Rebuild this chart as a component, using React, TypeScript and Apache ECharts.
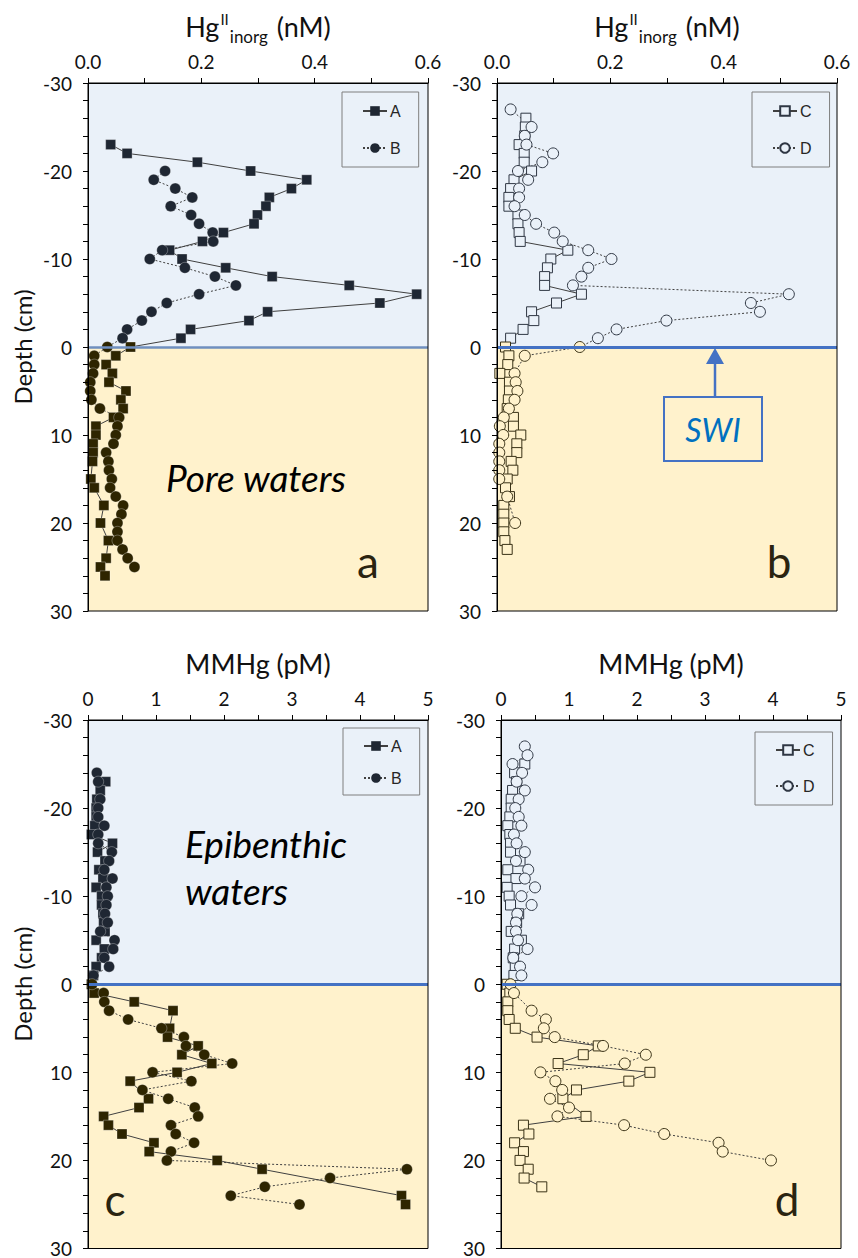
import React, { useEffect, useRef } from "react";
import * as echarts from "echarts";

// ---------- Data (depth in cm, negative = above SWI) ----------
// Panel a: Hg(II)inorg (nM), stations A and B
const depthHgA = [-23,-22,-21,-20,-19,-18,-17,-16,-15,-14,-13,-12,-11,-10,-9,-8,-7,-6,-5,-4,-3,-2,-1,0,1,2,3,4,5,6,7,8,9,10,11,12,13,15,16,18,20,22,24,25,26];
const hgA = [0.040,0.069,0.193,0.287,0.386,0.359,0.320,0.314,0.299,0.293,0.239,0.202,0.144,0.166,0.243,0.325,0.461,0.580,0.515,0.317,0.284,0.181,0.164,0.075,0.049,0.032,0.043,0.037,0.067,0.058,0.062,0.045,0.014,0.014,0.009,0.009,0.008,0.005,0.011,0.028,0.022,0.036,0.032,0.022,0.030];
const depthHgB = [-20,-19,-18,-17,-16,-15,-14,-13,-12,-11,-10,-9,-8,-7,-6,-5,-4,-3,-2,-1,0,1,2,3,4,5,6,7,8,9,10,11,12,13,14,15,16,17,18,19,20,21,22,23,24,25];
const hgB = [0.136,0.116,0.154,0.184,0.146,0.182,0.196,0.220,0.221,0.131,0.109,0.171,0.224,0.261,0.196,0.139,0.112,0.095,0.069,0.061,0.034,0.011,0.011,0.009,0.004,0.004,0.006,0.021,0.055,0.052,0.049,0.045,0.032,0.036,0.037,0.042,0.039,0.049,0.062,0.059,0.052,0.052,0.052,0.061,0.070,0.082];

// Panel b: Hg(II)inorg (nM), stations C and D
const depthHgC = [-26,-25,-24,-23,-22,-21,-20,-19,-18,-17,-16,-15,-14,-13,-12,-11,-10,-9,-8,-7,-6,-5,-4,-3,-2,-1,0,1,2,3,4,5,6,7,8,9,10,11,12,13,14,15,16,17,18,19,20,21,22,23];
const hgC = [0.051,0.050,0.049,0.039,0.048,0.048,0.061,0.030,0.024,0.021,0.021,0.037,0.037,0.039,0.041,0.125,0.095,0.089,0.084,0.084,0.149,0.105,0.061,0.065,0.046,0.024,0.015,0.021,0.019,0.005,0.022,0.022,0.020,0.018,0.029,0.029,0.042,0.035,0.035,0.025,0.028,0.018,0.015,0.022,0.012,0.012,0.012,0.012,0.014,0.018];
const depthHgD = [-27,-25,-24,-23,-22,-21,-20,-19,-18,-17,-16,-15,-14,-13,-12,-11,-10,-9,-8,-7,-6,-5,-4,-3,-2,-1,0,1,3,4,5,6,7,8,9,10,11,12,13,14,15,17,20];
const hgD = [0.024,0.061,0.049,0.052,0.099,0.080,0.037,0.055,0.039,0.039,0.031,0.049,0.069,0.101,0.116,0.161,0.202,0.161,0.149,0.134,0.515,0.448,0.464,0.299,0.211,0.178,0.146,0.049,0.031,0.033,0.036,0.031,0.021,0.012,0.005,0.011,0.004,0.004,0.004,0.004,0.004,0.018,0.032];

// Panel c: MMHg (pM), stations A and B
const depthMmA = [-23,-22,-21,-20,-19,-18,-17,-16,-15,-14,-13,-12,-11,-10,-9,-8,-7,-6,-5,-4,-3,-2,-1,0,1,2,3,5,6,7,8,9,10,11,13,14,15,16,17,18,19,20,21,24,25];
const mmA = [0.26,0.18,0.13,0.12,0.12,0.10,0.05,0.36,0.14,0.25,0.16,0.22,0.12,0.20,0.20,0.22,0.23,0.25,0.12,0.24,0.20,0.12,0.08,0.05,0.09,0.68,1.25,1.20,1.17,1.62,1.38,1.82,1.31,0.62,0.89,0.75,0.23,0.30,0.50,0.97,0.90,1.90,2.56,4.61,4.67];
const depthMmB = [-24,-23,-21,-20,-19,-18,-17,-16,-15,-14,-13,-12,-11,-10,-9,-8,-7,-6,-5,-4,-3,-2,-1,0,1,2,3,4,5,6,7,8,9,10,11,12,13,14,15,16,17,18,19,20,21,22,23,24,25];
const mmB = [0.13,0.15,0.18,0.15,0.15,0.24,0.15,0.15,0.35,0.31,0.24,0.36,0.27,0.29,0.27,0.25,0.29,0.18,0.39,0.37,0.24,0.31,0.08,0.06,0.23,0.24,0.31,0.59,1.08,1.41,1.44,1.71,2.12,0.95,1.52,0.80,1.18,1.57,1.62,1.22,1.29,1.56,1.22,1.16,4.69,3.56,2.60,2.10,3.11];

// Panel d: MMHg (pM), stations C and D
const depthMmC = [-25,-24,-23,-22,-21,-20,-19,-18,-17,-16,-15,-14,-13,-12,-11,-10,-9,-8,-7,-6,-5,-4,-3,-2,-1,0,1,2,3,4,5,6,7,8,9,10,11,12,13,15,16,17,18,19,20,21,22,23];
const mmC = [0.35,0.20,0.23,0.17,0.15,0.15,0.13,0.10,0.13,0.14,0.14,0.28,0.10,0.22,0.09,0.12,0.14,0.26,0.23,0.15,0.30,0.20,0.18,0.21,0.19,0.09,0.13,0.10,0.10,0.12,0.21,0.53,1.43,1.21,0.84,2.19,1.88,1.11,0.91,1.25,0.33,0.41,0.20,0.33,0.28,0.40,0.34,0.60];
const depthMmD = [-27,-26,-25,-24,-23,-22,-21,-20,-19,-18,-17,-16,-15,-14,-13,-12,-11,-10,-9,-8,-7,-6,-5,-4,-3,-2,-1,0,1,3,4,5,6,7,8,9,10,11,12,13,14,15,16,17,18,19,20];
const mmD = [0.35,0.39,0.17,0.31,0.23,0.35,0.26,0.21,0.26,0.30,0.19,0.23,0.35,0.22,0.40,0.35,0.50,0.30,0.45,0.24,0.22,0.22,0.25,0.39,0.18,0.28,0.30,0.14,0.19,0.45,0.66,0.63,0.79,1.50,2.13,1.82,0.58,0.80,0.90,0.72,1.00,0.83,1.81,2.40,3.20,3.26,3.97];

// Axis ticks
const depthMin = -30;
const depthMax = 30;
const depthStep = 10;
const hgMax = 0.6;
const hgStep = 0.2;
const mmMax = 5;
const mmStep = 1;

const FONT = "Lato";
const BLUE_BG = "#EAF1F9";
const YELLOW_BG = "#FFF2CC";
const TOP_MARK = "#1F2733";
const BOT_MARK = "#2E2500";
const LINE_COL = "#404040";

function buildData(depths: number[], vals: number[], filled: boolean) {
  return depths.map((d, i) => ({
    value: [vals[i], d],
    itemStyle: filled
      ? { color: d < 0 ? TOP_MARK : BOT_MARK, borderColor: "rgba(255,255,255,0.5)", borderWidth: 0.6 }
      : { color: d < 0 ? BLUE_BG : YELLOW_BG, borderColor: d < 0 ? "#2F3744" : "#3A3216", borderWidth: 1 },
  }));
}

function dataSeries(name: string, gi: number, depths: number[], vals: number[], filled: boolean, symbol: string, dotted: boolean) {
  return {
    type: "line",
    name,
    xAxisIndex: gi,
    yAxisIndex: gi,
    symbol,
    symbolSize: symbol === "rect" ? 10 : 11,
    showAllSymbol: true,
    z: 4,
    lineStyle: { color: LINE_COL, width: 1, type: dotted ? [2, 2] : "solid" },
    itemStyle: filled
      ? { color: TOP_MARK, borderWidth: 0 }
      : { color: BLUE_BG, borderColor: "#2F3744", borderWidth: 1 },
    data: buildData(depths, vals, filled),
  };
}

function bgSeries(gi: number, swiColor: string, swiWidth: number) {
  return {
    type: "line",
    name: "bg" + gi,
    xAxisIndex: gi,
    yAxisIndex: gi,
    data: [],
    silent: true,
    z: 1,
    markArea: {
      silent: true,
      data: [
        [{ yAxis: depthMin, itemStyle: { color: BLUE_BG } }, { yAxis: 0 }],
        [{ yAxis: 0, itemStyle: { color: YELLOW_BG } }, { yAxis: depthMax }],
      ],
    },
    markLine: {
      silent: true,
      symbol: "none",
      label: { show: false },
      lineStyle: { color: swiColor, width: swiWidth, type: "solid" },
      data: [{ yAxis: 0 }],
    },
  };
}

const gridsPos = [
  { left: 88, top: 83, width: 340, height: 528 },
  { left: 497, top: 83, width: 340, height: 528 },
  { left: 88, top: 720, width: 340, height: 530 },
  { left: 501, top: 720, width: 340, height: 530 },
];

const titleRich = {
  t: { fontSize: 27, fontFamily: FONT, color: "#111", lineHeight: 38, verticalAlign: "middle" },
  sup: { fontSize: 15, fontFamily: FONT, color: "#111", verticalAlign: "top", padding: [4, 1, 0, 1] },
  sub: { fontSize: 17, fontFamily: FONT, color: "#111", verticalAlign: "bottom", padding: [0, 2, 0, 0] },
};

function xAxisDef(gi: number, hg: boolean) {
  return {
    gridIndex: gi,
    type: "value",
    position: "top",
    min: 0,
    max: hg ? hgMax : mmMax,
    interval: hg ? hgStep : mmStep,
    z: 6,
    name: hg ? "{t|Hg}{sup|II}{sub|inorg}{t| (nM)}" : "{t|MMHg (pM)}",
    nameLocation: "middle",
    nameGap: 38,
    nameTextStyle: { rich: titleRich },
    axisLine: { show: true, onZero: false, lineStyle: { color: "#000", width: 1 } },
    axisTick: { show: true, length: 5, lineStyle: { color: "#000" } },
    minorTick: { show: true, splitNumber: 2, length: 5, lineStyle: { color: "#000" } },
    splitLine: { show: false },
    axisLabel: {
      fontFamily: FONT,
      fontSize: 19,
      color: "#111",
      margin: 12,
      formatter: (v: number) => (hg ? v.toFixed(1) : String(v)),
    },
  };
}

function yAxisDef(gi: number, withName: boolean) {
  return {
    gridIndex: gi,
    type: "value",
    inverse: true,
    min: depthMin,
    max: depthMax,
    interval: depthStep,
    z: 6,
    name: withName ? "Depth (cm)" : "",
    nameLocation: "middle",
    nameGap: 54,
    nameTextStyle: { fontFamily: FONT, fontSize: 24, color: "#111" },
    axisLine: { show: true, onZero: false, lineStyle: { color: "#000", width: 1 } },
    axisTick: { show: true, length: 5, lineStyle: { color: "#000" } },
    minorTick: { show: true, splitNumber: 5, length: 5, lineStyle: { color: "#000" } },
    splitLine: { show: false },
    axisLabel: { fontFamily: FONT, fontSize: 19, color: "#111", margin: 16 },
  };
}

function legendDef(names: string[], left: number, top: number, pad: number[], gap: number) {
  return {
    data: names,
    orient: "vertical",
    left,
    top,
    padding: pad,
    itemGap: gap,
    itemWidth: 24,
    itemHeight: 12,
    borderColor: "#7F7F7F",
    borderWidth: 1,
    borderRadius: 0,
    selectedMode: false,
    textStyle: { fontFamily: "Liberation Sans", fontSize: 16, color: "#262626", padding: [0, 0, 0, -2] },
  };
}

export default function App() {
  const ref = useRef<HTMLDivElement>(null);
  useEffect(() => {
    if (!ref.current) return;
    const chart = echarts.init(ref.current, null, { renderer: "svg" });
    const letterStyle = (t: string, x: number, y: number) => ({
      type: "text",
      x,
      y,
      z: 20,
      style: { text: t, font: `44px ${FONT}`, fill: "#2A2410", textAlign: "center", textVerticalAlign: "middle" },
    });
    const option: any = {
      animation: false,
      grid: gridsPos.map((g) => ({ ...g, show: true, borderColor: "#000", borderWidth: 1, backgroundColor: "transparent", z: 6 })),
      xAxis: [xAxisDef(0, true), xAxisDef(1, true), xAxisDef(2, false), xAxisDef(3, false)],
      yAxis: [yAxisDef(0, true), yAxisDef(1, false), yAxisDef(2, true), yAxisDef(3, false)],
      legend: [
        legendDef(["A", "B"], 342, 92, [11, 18, 11, 20], 21),
        legendDef(["C", "D"], 752, 92, [11, 18, 11, 20], 21),
        legendDef(["A", "B"], 343, 728, [10, 18, 9, 20], 16),
        legendDef(["C", "D"], 755, 732, [10, 18, 11, 20], 20),
      ],
      series: [
        bgSeries(0, "#6F8FBF", 2.5),
        bgSeries(1, "#4472C4", 3),
        bgSeries(2, "#4472C4", 3),
        bgSeries(3, "#4472C4", 3),
        dataSeries("A", 0, depthHgA, hgA, true, "rect", false),
        dataSeries("B", 0, depthHgB, hgB, true, "circle", true),
        dataSeries("C", 1, depthHgC, hgC, false, "rect", false),
        dataSeries("D", 1, depthHgD, hgD, false, "circle", true),
        dataSeries("A", 2, depthMmA, mmA, true, "rect", false),
        dataSeries("B", 2, depthMmB, mmB, true, "circle", true),
        dataSeries("C", 3, depthMmC, mmC, false, "rect", false),
        dataSeries("D", 3, depthMmD, mmD, false, "circle", true),
      ],
      graphic: [
        {
          type: "text",
          x: 256,
          y: 477,
          z: 20,
          style: { text: "Pore waters", font: `italic 37px ${FONT}`, fill: "#000", textAlign: "center", textVerticalAlign: "middle" },
        },
        {
          type: "text",
          x: 185,
          y: 843,
          z: 20,
          style: { text: "Epibenthic", font: `italic 37px ${FONT}`, fill: "#000", textAlign: "left", textVerticalAlign: "middle" },
        },
        {
          type: "text",
          x: 185,
          y: 890,
          z: 20,
          style: { text: "waters", font: `italic 37px ${FONT}`, fill: "#000", textAlign: "left", textVerticalAlign: "middle" },
        },
        letterStyle("a", 368, 561),
        letterStyle("b", 779, 561),
        letterStyle("c", 115, 1199),
        letterStyle("d", 787, 1199),
        {
          type: "line",
          z: 20,
          shape: { x1: 715, y1: 397, x2: 715, y2: 360 },
          style: { stroke: "#4472C4", lineWidth: 2.5 },
        },
        {
          type: "polygon",
          z: 20,
          shape: { points: [[715, 348], [706, 364], [724, 364]] },
          style: { fill: "#4472C4" },
        },
        {
          type: "rect",
          z: 20,
          shape: { x: 664, y: 397, width: 98, height: 64 },
          style: { fill: YELLOW_BG, stroke: "#4472C4", lineWidth: 2 },
        },
        {
          type: "text",
          x: 713,
          y: 429,
          z: 21,
          style: { text: "SWI", font: `italic 32px ${FONT}`, fill: "#0070C0", textAlign: "center", textVerticalAlign: "middle" },
        },
      ],
    };
    chart.setOption(option);
    return () => chart.dispose();
  }, []);
  return (
    <div
      ref={ref}
      style={{ position: "absolute", left: 0, top: 0, width: 858, height: 1258, background: "#fff" }}
    />
  );
}
